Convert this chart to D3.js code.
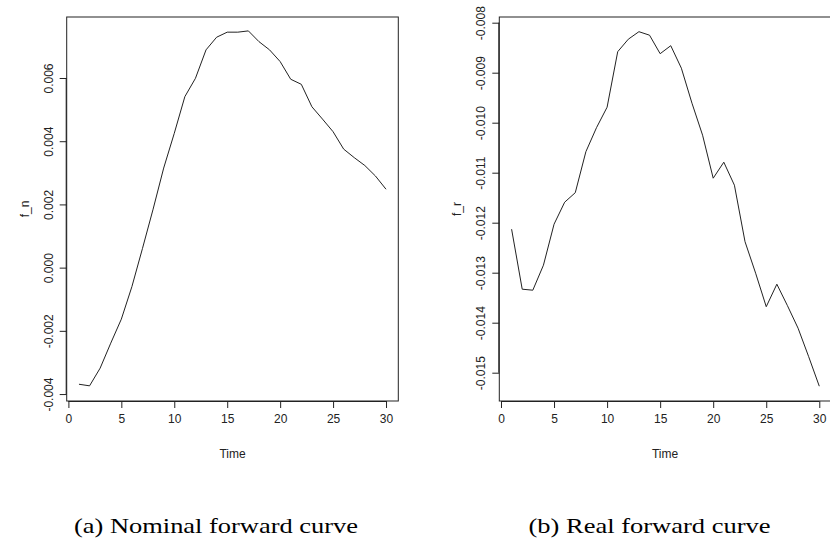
<!DOCTYPE html>
<html><head><meta charset="utf-8">
<script src="https://cdn.jsdelivr.net/npm/d3@7"></script>
<style>body{margin:0;background:#fff}svg{display:block}</style>
</head><body>
<script>
const time = d3.range(1, 31);
const nominal = [-0.00369,-0.00374,-0.00318,-0.00239,-0.00163,-0.00060,0.00061,0.00185,0.00315,0.00425,
  0.00541,0.00599,0.00689,0.00729,0.00745,0.00745,0.00749,0.00715,0.00689,0.00652,
  0.00596,0.00580,0.00509,0.00470,0.00430,0.00375,0.00348,0.00323,0.00290,0.00248];
const real = [-0.01213,-0.01333,-0.01335,-0.01285,-0.01203,-0.01159,-0.01140,-0.01058,-0.01010,-0.00969,
  -0.00858,-0.00833,-0.00818,-0.00825,-0.00862,-0.00846,-0.00891,-0.00961,-0.01025,-0.01111,
  -0.01079,-0.01125,-0.01238,-0.01301,-0.01368,-0.01323,-0.01366,-0.01411,-0.01468,-0.01527];
const xTicks = [0,5,10,15,20,25,30];
const nominalTicks = [-0.004,-0.002,0.000,0.002,0.004,0.006];
const realTicks = [-0.015,-0.014,-0.013,-0.012,-0.011,-0.010,-0.009,-0.008];
const panels = [
  {values: nominal, ticks: nominalTicks, ylab: "f_n", caption: "(a) Nominal forward curve",
   left: 66.7, right: 398.3, ydom: [-0.00422, 0.00793], capX: 74, capW: 284},
  {values: real, ticks: realTicks, ylab: "f_r", caption: "(b) Real forward curve",
   left: 499.3, right: 831.6, ydom: [-0.015566, -0.007886], capX: 528.5, capW: 242}
];
const W = 830, H = 541, pTop = 17, pBottom = 401;
const svg = d3.select("body").append("svg").attr("width", W).attr("height", H);
const font = "'Liberation Sans', Arial, sans-serif";
const col = "#222";
panels.forEach(p => {
  const pad = (30 - 1) * 0.04;
  const x = d3.scaleLinear().domain([1 - pad, 30 + pad]).range([p.left, p.right]);
  const y = d3.scaleLinear().domain(p.ydom).range([pBottom, pTop]);
  const g = svg.append("g");
  g.append("rect").attr("x", p.left).attr("y", pTop).attr("width", p.right - p.left)
    .attr("height", pBottom - pTop).attr("fill", "none").attr("stroke", col).attr("stroke-width", 1);
  const line = d3.line().x((d, i) => x(time[i])).y(d => y(d));
  g.append("path").datum(p.values).attr("d", line).attr("fill", "none")
    .attr("stroke", col).attr("stroke-width", 1);
  // x axis
  const xa = g.append("g").attr("transform", `translate(0,${pBottom})`)
    .call(d3.axisBottom(x).tickValues(xTicks).tickSize(7).tickPadding(6).tickFormat(d3.format("d")));
  xa.select(".domain").attr("d", `M${x(0)},0.5H${x(30)}`).attr("stroke", col);
  xa.selectAll(".tick line").attr("stroke", col);
  xa.selectAll("text").attr("font-family", font).attr("font-size", 12).attr("fill", col);
  // y axis
  const ya = g.append("g").attr("transform", `translate(${p.left},0)`)
    .call(d3.axisLeft(y).tickValues(p.ticks).tickSize(7).tickFormat(d => d3.format(".3f")(d).replace("−", "-")));
  const yt = p.ticks;
  ya.select(".domain").attr("d", `M-0.5,${y(yt[0])}V${y(yt[yt.length - 1])}`).attr("stroke", col);
  ya.selectAll(".tick line").attr("stroke", col);
  ya.selectAll("text").attr("font-family", font).attr("font-size", 12).attr("fill", col)
    .attr("x", null).attr("dy", null).attr("text-anchor", "middle")
    .attr("transform", "translate(-18,0) rotate(-90)").attr("dominant-baseline", "central");
  // labels
  g.append("text").attr("x", (p.left + (p.left + 331.6)) / 2).attr("y", 458)
    .attr("text-anchor", "middle").attr("font-family", font).attr("font-size", 12).attr("fill", col).text("Time");
  g.append("text").attr("transform", `translate(${p.left - 38},${(pTop + pBottom) / 2}) rotate(-90)`)
    .attr("text-anchor", "middle").attr("font-family", font).attr("font-size", 12).attr("fill", col).text(p.ylab);
  g.append("text").attr("x", p.capX).attr("y", 533).attr("text-anchor", "start")
    .attr("font-family", "'Liberation Serif', serif").attr("font-size", 22)
    .attr("textLength", p.capW).attr("lengthAdjust", "spacingAndGlyphs")
    .attr("fill", "#000").text(p.caption);
});
</script>
</body></html>
